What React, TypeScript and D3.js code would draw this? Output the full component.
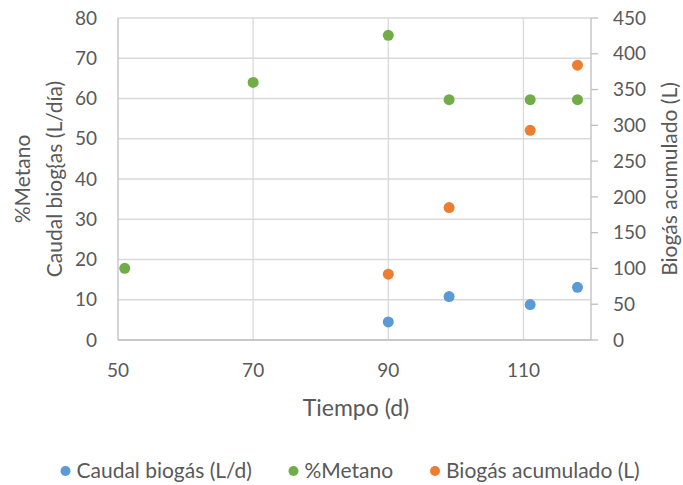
import { useEffect, useRef } from "react";
import * as d3 from "d3";

const diasCaudal = [90, 99, 111, 118];
const caudal = [4.5, 10.8, 8.8, 13.1];
const diasMetano = [51, 70, 90, 99, 111, 118];
const metano = [17.8, 64.0, 75.7, 59.7, 59.7, 59.7];
const diasAcumulado = [90, 99, 111, 118];
const acumulado = [92, 185, 293, 384];

const xTicks = [50, 70, 90, 110];
const leftTicks = [0, 10, 20, 30, 40, 50, 60, 70, 80];
const rightTicks = [0, 50, 100, 150, 200, 250, 300, 350, 400, 450];

const seriesNames = ["Caudal biogás (L/d)", "%Metano", "Biogás acumulado (L)"];
const colors = ["#5B9BD5", "#70AD47", "#ED7D31"];

const FONT = "Lato, 'Open Sans', sans-serif";
const TXT = "#595959";

export default function App() {
  const svgRef = useRef<SVGSVGElement>(null);

  useEffect(() => {
    const svg = d3.select(svgRef.current);
    svg.selectAll("*").remove();

    const left = 118, right = 591, top = 18, bottom = 340;

    const x = d3.scaleLinear().domain([50, 120]).range([left, right]);
    const yL = d3.scaleLinear().domain([0, 80]).range([bottom, top]);
    const yR = d3.scaleLinear().domain([0, 450]).range([bottom, top]);

    const grid = svg.append("g");
    grid.selectAll(".h")
      .data(leftTicks)
      .join("line")
      .attr("x1", left).attr("x2", right)
      .attr("y1", d => yL(d)).attr("y2", d => yL(d))
      .attr("stroke", "#d9d9d9").attr("stroke-width", 1.3);
    grid.selectAll(".v")
      .data(xTicks.filter(d => d > 50))
      .join("line")
      .attr("x1", d => x(d)).attr("x2", d => x(d))
      .attr("y1", top).attr("y2", bottom)
      .attr("stroke", "#d9d9d9").attr("stroke-width", 1.3);

    // axis lines
    svg.append("line")
      .attr("x1", left).attr("x2", left).attr("y1", top).attr("y2", bottom)
      .attr("stroke", "#bfbfbf").attr("stroke-width", 1.3);
    svg.append("line")
      .attr("x1", right).attr("x2", right).attr("y1", top).attr("y2", bottom)
      .attr("stroke", "#bfbfbf").attr("stroke-width", 1.3);
    svg.append("line")
      .attr("x1", left).attr("x2", right).attr("y1", bottom).attr("y2", bottom)
      .attr("stroke", "#bfbfbf").attr("stroke-width", 1.3);
    svg.selectAll(".rtick")
      .data(rightTicks)
      .join("line")
      .attr("x1", right).attr("x2", right + 7)
      .attr("y1", d => yR(d)).attr("y2", d => yR(d))
      .attr("stroke", "#bfbfbf").attr("stroke-width", 1.3);

    const text = (sel: any, size: number) =>
      sel.attr("font-family", FONT).attr("font-size", size).attr("fill", TXT);

    text(svg.selectAll(".ltl").data(leftTicks).join("text"), 19)
      .attr("x", 97).attr("y", d => yL(d)).attr("dy", "0.35em")
      .attr("text-anchor", "end").text(d => d);

    text(svg.selectAll(".rtl").data(rightTicks).join("text"), 19)
      .attr("x", 613).attr("y", d => yR(d)).attr("dy", "0.35em")
      .attr("text-anchor", "start").text(d => d);

    text(svg.selectAll(".xtl").data(xTicks).join("text"), 19)
      .attr("x", d => x(d)).attr("y", 370).attr("dy", "0.35em")
      .attr("text-anchor", "middle").text(d => d);

    text(svg.append("text"), 23)
      .attr("x", 356).attr("y", 408).attr("dy", "0.35em")
      .attr("text-anchor", "middle").text("Tiempo (d)");

    text(svg.append("text"), 21)
      .attr("transform", `translate(23,179) rotate(-90)`)
      .attr("dy", "0.35em").attr("text-anchor", "middle").text("%Metano");
    text(svg.append("text"), 21)
      .attr("transform", `translate(55,179) rotate(-90)`)
      .attr("dy", "0.35em").attr("text-anchor", "middle").text("Caudal biog{as (L/día)");
    text(svg.append("text"), 21)
      .attr("transform", `translate(670,179) rotate(-90)`)
      .attr("dy", "0.35em").attr("text-anchor", "middle").text("Biogás acumulado (L)");

    const pts = [
      { xs: diasCaudal, ys: caudal, scale: yL, color: colors[0] },
      { xs: diasMetano, ys: metano, scale: yL, color: colors[1] },
      { xs: diasAcumulado, ys: acumulado, scale: yR, color: colors[2] },
    ];
    pts.forEach(s => {
      svg.append("g")
        .selectAll("circle")
        .data(s.xs.map((d, i) => [d, s.ys[i]]))
        .join("circle")
        .attr("cx", d => x(d[0]))
        .attr("cy", d => s.scale(d[1]))
        .attr("r", 5.5)
        .attr("fill", s.color);
    });

    const legendX = [65.5, 293.5, 435];
    const legend = svg.selectAll(".legend")
      .data(seriesNames)
      .join("g")
      .attr("transform", (d, i) => `translate(${legendX[i]},471)`);
    legend.append("circle").attr("r", 5).attr("fill", (d, i) => colors[i]);
    text(legend.append("text"), 21)
      .attr("x", 11).attr("dy", "0.35em").text(d => d);
  }, []);

  return (
    <svg
      ref={svgRef}
      width={683}
      height={485}
      style={{ position: "absolute", left: 0, top: 0, background: "#fff" }}
    />
  );
}
